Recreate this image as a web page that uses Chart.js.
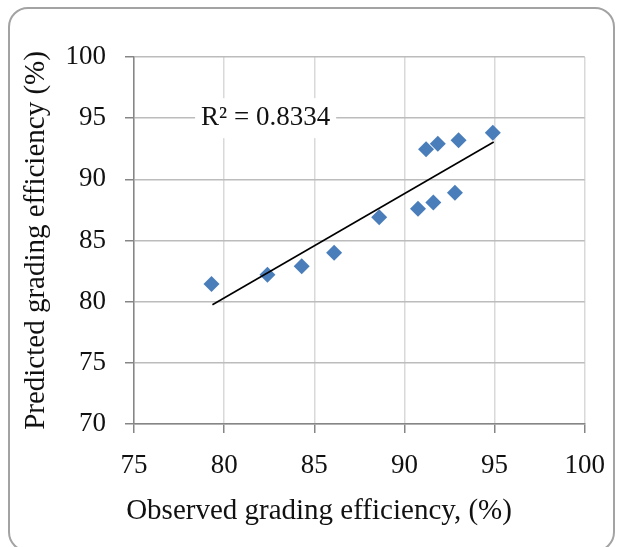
<!DOCTYPE html>
<html>
<head>
<meta charset="utf-8">
<script src="https://cdn.jsdelivr.net/npm/chart.js@4.4.0/dist/chart.umd.min.js"></script>
<style>
html, body { margin: 0; padding: 0; background: #fff; }
#wrap { position: relative; width: 622px; height: 547px; overflow: hidden; }
#frame { position: absolute; left: 8px; top: 7px; width: 607px; height: 545px; border: 2px solid #a3a3a3; border-radius: 20px; box-sizing: border-box; }
canvas { position: absolute; left: 0; top: 0; }
</style>
</head>
<body>
<div id="wrap">
<div id="frame"></div>
<canvas id="chart" width="622" height="547"></canvas>
</div>
<script>
// observed vs predicted grading efficiency (%)
const observed = [79.3, 82.4, 84.3, 86.1, 88.6, 90.75, 91.6, 92.8, 91.2, 91.85, 93.0, 94.9];
const predicted = [81.45, 82.2, 82.9, 84.0, 86.9, 87.6, 88.1, 88.9, 92.45, 92.9, 93.2, 93.8];
// linear trend line end points
const trendX = [79.35, 94.95];
const trendY = [79.75, 93.05];
const r2Label = "R² = 0.8334";
const xTicks = [75, 80, 85, 90, 95, 100];
const yTicks = [70, 75, 80, 85, 90, 95, 100];

const serif = "'Liberation Serif', 'Times New Roman', serif";
const axisGray = "#868686";

// R² label with white box, and the x axis title
const extraText = {
  id: "extraText",
  afterDraw(chart) {
    const ctx = chart.ctx;
    const x = chart.scales.x, y = chart.scales.y;
    ctx.save();
    ctx.font = "27px " + serif;
    const w = ctx.measureText(r2Label).width;
    const cx = x.getPixelForValue(82.3);
    const cy = y.getPixelForValue(95);
    ctx.fillStyle = "#fff";
    ctx.fillRect(cx - w / 2 - 6, cy - 20, w + 12, 40);
    ctx.fillStyle = "#111";
    ctx.textAlign = "center";
    ctx.textBaseline = "middle";
    ctx.fillText(r2Label, cx, cy);
    ctx.font = "29px " + serif;
    ctx.fillText("Observed grading efficiency, (%)", chart.chartArea.left + 185, 511);
    ctx.restore();
  }
};

new Chart(document.getElementById("chart").getContext("2d"), {
  type: "scatter",
  data: {
    datasets: [{
      label: "Predicted",
      data: observed.map((v, i) => ({ x: v, y: predicted[i] })),
      pointStyle: "rectRot",
      pointRadius: 8,
      pointBorderWidth: 0,
      backgroundColor: "#4a7ebb",
      borderColor: "#4a7ebb",
      order: 1
    }, {
      label: "Trend",
      type: "line",
      data: trendX.map((v, i) => ({ x: v, y: trendY[i] })),
      borderColor: "#000",
      borderWidth: 1.6,
      pointRadius: 0,
      fill: false,
      order: 0
    }]
  },
  options: {
    responsive: false,
    animation: false,
    layout: { padding: { left: 0, top: 57, right: 36, bottom: 0 } },
    plugins: { legend: { display: false }, tooltip: { enabled: false } },
    scales: {
      x: {
        type: "linear",
        min: 75, max: 100,
        afterBuildTicks: s => { s.ticks = xTicks.map(v => ({ value: v })); },
        afterFit: s => { s.height = 123; },
        grid: { color: "#d9d9d9", lineWidth: 1.5, tickColor: axisGray, tickLength: 9 },
        border: { color: axisGray, width: 1.5 },
        ticks: { color: "#111", font: { family: serif, size: 27 }, padding: 17, maxRotation: 0 }
      },
      y: {
        type: "linear",
        min: 70, max: 100,
        afterBuildTicks: s => { s.ticks = yTicks.map(v => ({ value: v })); },
        afterFit: s => { s.width = 134; },
        grid: { color: "#bcbcbc", lineWidth: 1.5, tickColor: axisGray, tickLength: 9 },
        border: { color: axisGray, width: 1.5 },
        ticks: { color: "#111", font: { family: serif, size: 27 }, padding: 19 },
        title: {
          display: true,
          text: "Predicted grading efficiency (%)",
          color: "#111",
          font: { family: serif, size: 29 },
          padding: { top: 19, bottom: 0 }
        }
      }
    }
  },
  plugins: [extraText]
});
</script>
</body>
</html>
